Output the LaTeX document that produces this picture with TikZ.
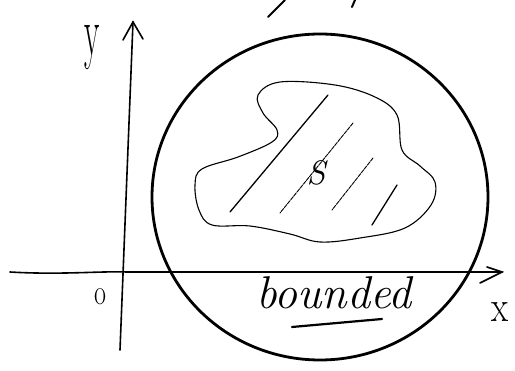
\documentclass[tikz,border=0pt]{standalone}
\usepackage{fontspec}
\begin{document}
\begin{tikzpicture}[x=1pt,y=-1pt,
  axis/.style={line width=1.6pt, line cap=round},
  ring/.style={line width=2.8pt},
  blob/.style={line width=1.1pt, line join=round},
  hatch/.style={line width=1.3pt, line cap=round},
  faint/.style={line width=0.9pt, line cap=round, dash pattern=on 4pt off 1pt},
  hand/.style={inner sep=0pt},
  stroke/.style={line width=2pt, line cap=round}]
\useasboundingbox (0,0) rectangle (515,371);
% stray strokes at the top edge
\draw[stroke] (268,17) -- (285,0);
\draw[stroke] (352,7) -- (355,0);
% axes
\coordinate (ybot) at (120,350);
\coordinate (ytop) at (133,22);
\coordinate (xl) at (10,272);
\coordinate (xr) at (502,272);
\draw[axis] (xl) .. controls (60,275) and (100,271) .. (127,272) -- (xr);
\draw[axis] (ybot) -- (ytop);
\draw[axis] (123,40) -- (ytop) -- (143,39);
\draw[axis] (487,267) -- (xr) -- (480,283);
% bounding circle
\draw[ring] (320,197) ellipse [x radius=168, y radius=163];
% set S
\draw[blob] plot[smooth cycle, tension=0.6] coordinates {
  (258,95) (280,82) (335,85) (375,97) (397,115) (402,150) (420,166)
  (435,182) (431,205) (405,228) (360,238) (320,242) (290,234)
  (250,226) (212,225) (199,210) (195,185) (202,169) (238,157)
  (272,142) (277,130) (263,113)};
\draw[hatch] (328,95) -- (230,212);
\draw[faint] (353,123) -- (280,213);
\draw[faint] (373,158) -- (332,210);
\draw[hatch] (397,185) -- (372,225);
\node[hand, font=\fontsize{34}{34}\selectfont\itshape] (S) at (316,173) {S};
% labels
\node[hand, font=\fontsize{70}{70}\selectfont, xscale=0.45] (ylab) at (92,48) {y};
\node[hand, font=\fontsize{20}{20}\selectfont, xscale=1.3, yscale=1.8] (olab) at (100,297) {o};
\node[hand, font=\fontsize{44}{44}\selectfont, xscale=0.8] (xlab) at (500,312) {x};
\node[hand, font=\fontsize{46}{46}\selectfont\itshape, anchor=base west] (bd) at (256,309) {bounded};
\draw[line width=2.2pt, line cap=round] (292,327) -- (382,319);
\end{tikzpicture}
\end{document}
